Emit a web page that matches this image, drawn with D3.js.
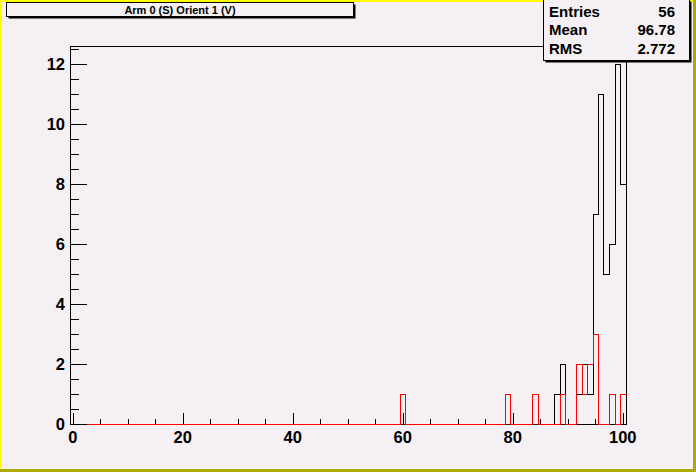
<!DOCTYPE html>
<html><head><meta charset="utf-8">
<script src="https://cdn.jsdelivr.net/npm/d3@7"></script>
<style>body{margin:0;background:#f4f0f4;}svg{display:block;}</style>
</head><body>
<svg id="c" width="696" height="472"></svg>
<script>
// ---- data ----
const title = "Arm 0 (S) Orient 1 (V)";
const binRange = [-0.5, 100.5];          // 101 bins of width 1
const blackBins   = [88, 89, 92, 93, 94, 95, 96, 97, 98, 99, 100];
const blackCounts = [ 1,  2,  1,  2,  1,  7, 11,  5,  6, 12,  8];
const redBins   = [60, 79, 84, 89, 92, 93, 94, 95, 98, 100];
const redCounts = [ 1,  1,  1,  1,  2,  1,  2,  3,  1,   1];
const xTicks = [0, 20, 40, 60, 80, 100];
const yTicks = [0, 2, 4, 6, 8, 10, 12];
const yMax = 12.6;
const statNames  = ["Entries", "Mean", "RMS"];
const statValues = ["56", "96.78", "2.772"];

const W = 696, H = 472;
const svg = d3.select("#c");
const font = "'Liberation Sans', Arial, Helvetica, sans-serif";
const bg = "#f4f0f4";

svg.append("rect").attr("width", W).attr("height", H).attr("fill", bg);
// bevel border
svg.append("rect").attr("x", 0).attr("y", 0).attr("width", W).attr("height", 2).attr("fill", "#ffff00");
svg.append("rect").attr("x", 0).attr("y", 0).attr("width", 2).attr("height", H).attr("fill", "#ffff00");
svg.append("rect").attr("x", W - 3).attr("y", 0).attr("width", 3).attr("height", H).attr("fill", "#aaaa00");
svg.append("rect").attr("x", 0).attr("y", H - 3).attr("width", W).attr("height", 3).attr("fill", "#aaaa00");

const L = 70, R = 625.5, T = 46, B = 424;
const x = d3.scaleLinear().domain(binRange).range([L, R]);
const y = d3.scaleLinear().domain([0, yMax]).range([B, T]);

function fullBins(bins, counts) {
  const arr = [];
  for (let c = Math.ceil(binRange[0]); c <= Math.floor(binRange[1]); c++) {
    const i = bins.indexOf(c);
    arr.push({c: c, v: i >= 0 ? counts[i] : 0});
  }
  return arr;
}
function stepPath(data) {
  const pts = [];
  data.forEach(d => {
    pts.push([x(d.c - 0.5), y(d.v)]);
    pts.push([x(d.c + 0.5), y(d.v)]);
  });
  return d3.line().x(p => Math.round(p[0]) + 0.5).y(p => Math.round(p[1]) + 0.5)(pts);
}

const g = svg.append("g");
// frame
g.append("rect").attr("x", L + 0.5).attr("y", T + 0.5).attr("width", R - L).attr("height", B - T)
  .attr("fill", "none").attr("stroke", "#000").attr("stroke-width", 1).attr("shape-rendering", "crispEdges");

// histograms
g.append("path").attr("d", stepPath(fullBins(blackBins, blackCounts)))
  .attr("fill", "none").attr("stroke", "#000").attr("stroke-width", 1).attr("shape-rendering", "crispEdges");
g.append("path").attr("d", stepPath(fullBins(redBins, redCounts)))
  .attr("fill", "none").attr("stroke", "#ff0000").attr("stroke-width", 1).attr("shape-rendering", "crispEdges");

// x axis ticks (inside, pointing up)
const xMinor = d3.range(0, 101, 5);
const xa = svg.append("g").attr("shape-rendering", "crispEdges");
xMinor.forEach(v => {
  const major = xTicks.includes(v);
  const px = Math.round(x(v)) + 0.5;
  xa.append("line").attr("x1", px).attr("x2", px).attr("y1", B).attr("y2", B - (major ? 11 : 5.5))
    .attr("stroke", "#000");
});
xTicks.forEach(v => {
  xa.append("text").attr("x", x(v)).attr("y", 443).attr("text-anchor", "middle")
    .attr("font-family", font).attr("font-weight", "bold").attr("font-size", 16.5).text(v);
});

// y axis ticks (inside, pointing right)
const yMinor = d3.range(0, 12.51, 0.5);
const ya = svg.append("g").attr("shape-rendering", "crispEdges");
yMinor.forEach(v => {
  const major = yTicks.includes(v);
  const py = Math.round(y(v)) + 0.5;
  ya.append("line").attr("x1", L).attr("x2", L + (major ? 17 : 8.5)).attr("y1", py).attr("y2", py)
    .attr("stroke", "#000");
});
yTicks.forEach(v => {
  ya.append("text").attr("x", 65).attr("y", y(v) + 6).attr("text-anchor", "end")
    .attr("font-family", font).attr("font-weight", "bold").attr("font-size", 16.5).text(v);
});

// title box
svg.append("rect").attr("x", 8.5).attr("y", 4.5).attr("width", 347).attr("height", 14).attr("fill", "#000");
svg.append("rect").attr("x", 6.5).attr("y", 2.5).attr("width", 347).attr("height", 14)
  .attr("fill", bg).attr("stroke", "#000").attr("shape-rendering", "crispEdges");
svg.append("text").attr("x", 180).attr("y", 13.5).attr("text-anchor", "middle")
  .attr("font-family", font).attr("font-weight", "bold").attr("font-size", 11).text(title);

// stats box
svg.append("rect").attr("x", 545.5).attr("y", 1.5).attr("width", 146).attr("height", 61).attr("fill", "#000");
svg.append("rect").attr("x", 543.5).attr("y", -0.5).attr("width", 146).attr("height", 61)
  .attr("fill", bg).attr("stroke", "#000").attr("shape-rendering", "crispEdges");
const rowY = [16.5, 35, 53.5];
statNames.forEach((n, i) => {
  svg.append("text").attr("x", 549).attr("y", rowY[i])
    .attr("font-family", font).attr("font-weight", "bold").attr("font-size", 15).text(n);
  svg.append("text").attr("x", 675).attr("y", rowY[i]).attr("text-anchor", "end")
    .attr("font-family", font).attr("font-weight", "bold").attr("font-size", 15).text(statValues[i]);
});
</script>
</body></html>
